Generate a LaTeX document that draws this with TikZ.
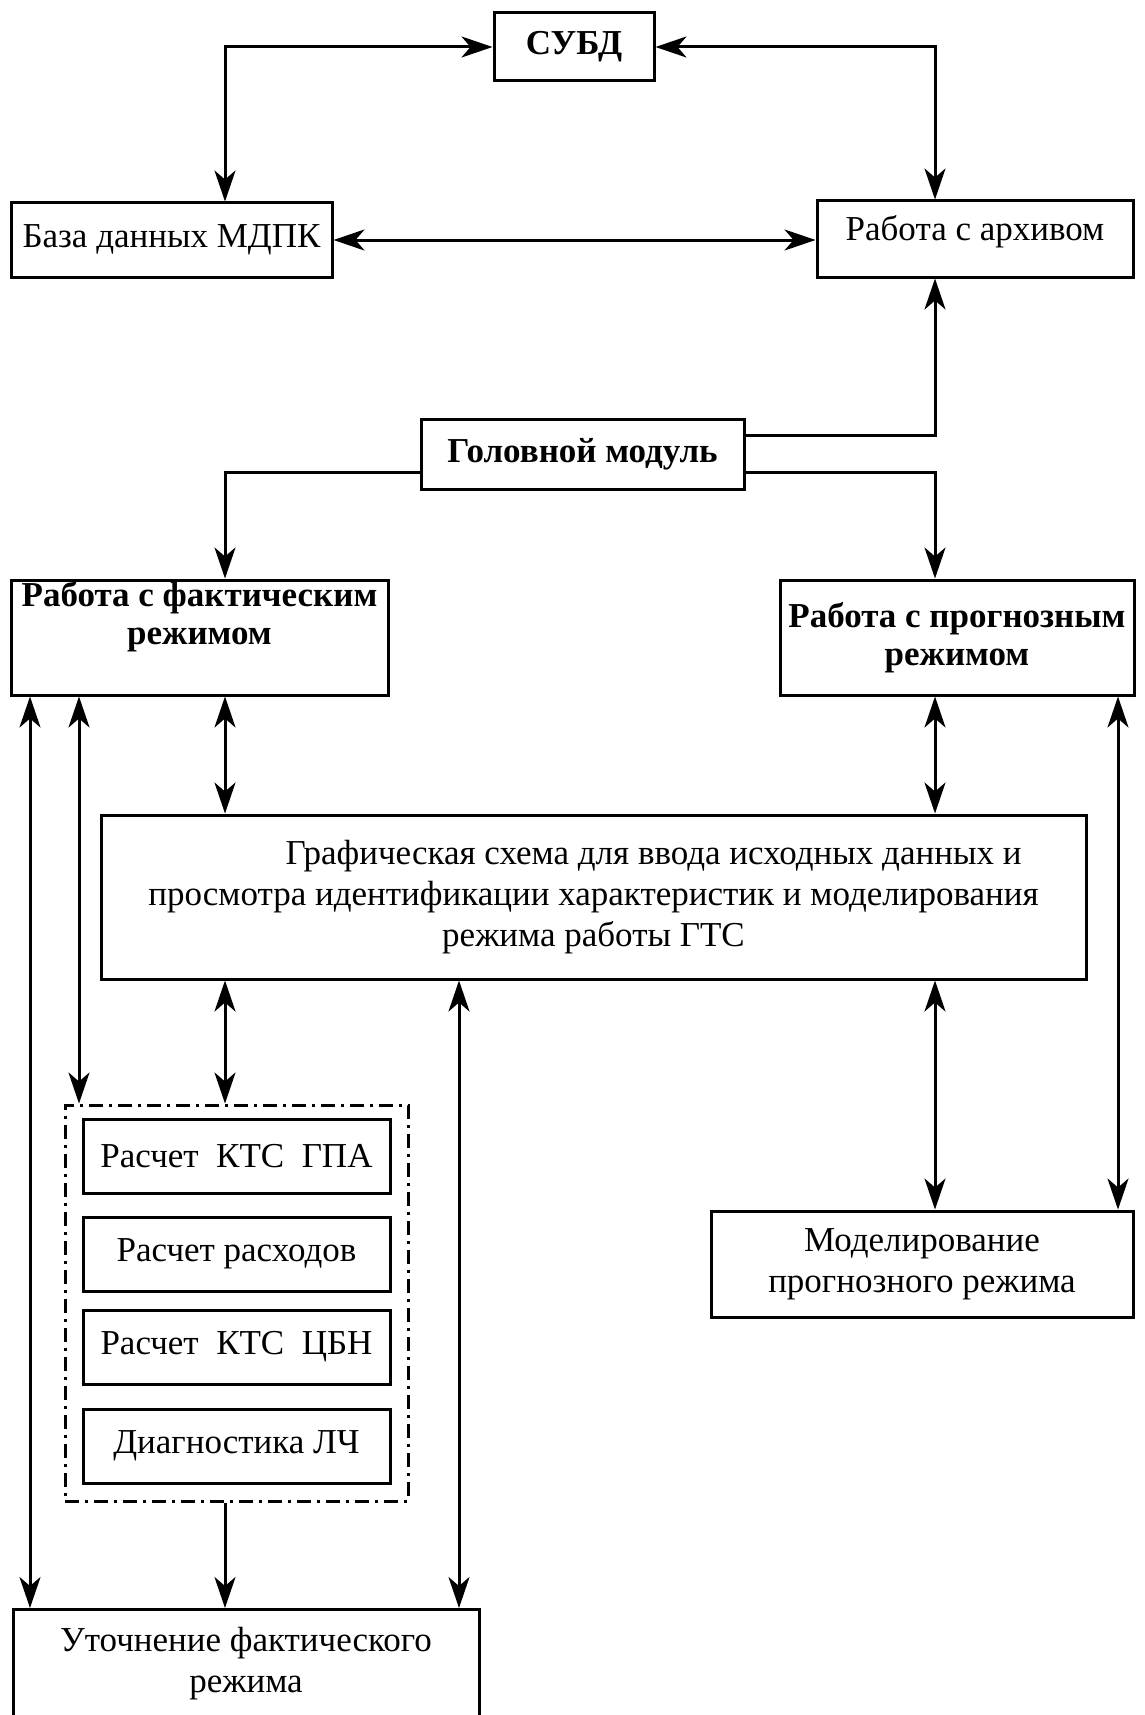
\documentclass[tikz,border=0pt]{standalone}
\usepackage{fontspec}
\setmainfont{Liberation Serif}
\usetikzlibrary{arrows.meta,calc}
\begin{document}
\begin{tikzpicture}[x=1pt,y=-1pt,
  >={Stealth[length=31pt,width=21pt,inset=9pt]},
  box/.style={draw, line width=3pt, inner sep=0pt, align=center, font=\fontsize{35}{41}\selectfont},
  bbox/.style={box, font=\fontsize{35}{38}\selectfont\bfseries},
  dashbox/.style={draw, line width=3pt, inner sep=0pt, dash pattern=on 14pt off 6pt on 3pt off 6pt},
  conn/.style={line width=3pt},
  lbl/.style={inner sep=0pt, align=center, font=\fontsize{35}{41}\selectfont}]
\useasboundingbox (0,0) rectangle (1144,1715);
% column / row helpers
\coordinate (xA) at (30,0);
\coordinate (xB) at (79,0);
\coordinate (xC) at (225,0);
\coordinate (xD) at (459,0);
\coordinate (xE) at (935,0);
\coordinate (xF) at (1118,0);
\coordinate (yH1) at (0,435);
\coordinate (yH2) at (0,472);
% nodes
\node[bbox, minimum width=160pt, minimum height=68pt] (subd) at (574,47) {СУБД};
\node[box, minimum width=321pt, minimum height=74pt] (mdpk) at (171.5,240) {База данных МДПК};
\node[box, minimum width=316pt, minimum height=76pt, text depth=23pt] (arch) at (975,239) {Работа с архивом};
\node[bbox, minimum width=323pt, minimum height=70pt] (head) at (582.5,454) {Головной модуль};
\node[bbox, minimum width=377pt, minimum height=115pt] (fact) at (199.5,637.5) {Работа с фактическим\\режимом\\\strut};
\node[bbox, minimum width=354pt, minimum height=115pt] (prog) at (957,637.5) {Работа с прогнозным\\режимом};
\node[box, minimum width=985pt, minimum height=164pt] (graph) at (593.5,897) {\hspace*{120pt}Графическая схема для ввода исходных данных и\\просмотра идентификации характеристик и моделирования\\режима работы ГТС};
\node[dashbox, minimum width=343pt, minimum height=396pt] (dash) at (236.5,1303) {};
\node[box, minimum width=307pt, minimum height=74pt] (r1) at (236.5,1156) {Расчет\ \ КТС\ \ ГПА};
\node[box, minimum width=307pt, minimum height=74pt] (r2) at (236.5,1254) {Расчет расходов};
\node[box, minimum width=307pt, minimum height=74pt] (r3) at (236.5,1347) {Расчет\ \ КТС\ \ ЦБН};
\node[box, minimum width=307pt, minimum height=74pt] (r4) at (236.5,1446) {Диагностика ЛЧ};
\node[box, minimum width=422pt, minimum height=106pt] (model) at (922,1264) {Моделирование\\прогнозного режима};
\node[draw, line width=3pt, inner sep=0pt, minimum width=466pt, minimum height=140pt, anchor=north] (utochbox) at (246,1608) {};
\node[lbl] (utoch) at (246,1664) {Уточнение фактического\\режима};
% connectors
\draw[conn,<->] (subd.west) -| (mdpk.north -| xC);
\draw[conn,<->] (subd.east) -| (arch.north -| xE);
\draw[conn,<->] (mdpk.east) -- (mdpk.east -| arch.west);
\draw[conn,->] (head.east |- yH1) -| (arch.south -| xE);
\draw[conn,->] (head.west |- yH2) -| (fact.north -| xC);
\draw[conn,->] (head.east |- yH2) -| (prog.north -| xE);
\draw[conn,<->] (fact.south -| xC) -- (graph.north -| xC);
\draw[conn,<->] (prog.south -| xE) -- (graph.north -| xE);
\draw[conn,<->] (fact.south -| xA) -- (utochbox.north -| xA);
\draw[conn,<->] (fact.south -| xB) -- (dash.north -| xB);
\draw[conn,<->] (prog.south -| xF) -- (model.north -| xF);
\draw[conn,<->] (graph.south -| xC) -- (dash.north -| xC);
\draw[conn,<->] (graph.south -| xD) -- (utochbox.north -| xD);
\draw[conn,<->] (graph.south -| xE) -- (model.north -| xE);
\draw[conn,->] (dash.south -| xC) -- (utochbox.north -| xC);
\end{tikzpicture}
\end{document}
